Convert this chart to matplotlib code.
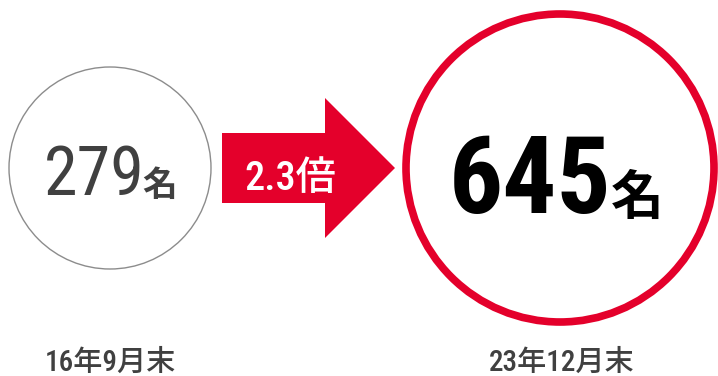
import matplotlib
matplotlib.use("Agg")
import matplotlib.pyplot as plt
from matplotlib.patches import Circle, Polygon

# データ
periods = ["16年9月末", "23年12月末"]
counts = [279, 645]
unit = "名"

fam = ["Roboto Condensed", "Noto Sans CJK JP", "DejaVu Sans"]
cjk = ["Noto Sans CJK JP", "DejaVu Sans"]

red = "#E4002B"
gray = "#404040"

fig = plt.figure(figsize=(7.18, 3.76), dpi=100)
ax = fig.add_axes([0, 0, 1, 1])
ax.set_xlim(0, 718)
ax.set_ylim(376, 0)
ax.set_aspect("equal")
ax.axis("off")

# 円
ax.add_patch(Circle((110, 168), 101, fill=False, ec="#8c8c8c", lw=1.0))
ax.add_patch(Circle((560, 168), 154, fill=False, ec=red, lw=5.5))

# 矢印
arrow = [(222, 133), (325, 133), (325, 98), (395, 168),
         (325, 238), (325, 203), (222, 203)]
ax.add_patch(Polygon(arrow, closed=True, fc=red, ec="none"))
ax.text(290, 190, f"{counts[1] / counts[0]:.1f}倍", color="white",
        fontsize=29, fontweight="medium", family=fam, ha="center", va="baseline")

# 人数
ax.text(145, 195, f"{counts[0]}", color=gray, fontsize=49, family=fam,
        ha="right", va="baseline")
ax.text(142, 196, unit, color=gray, fontsize=25, fontweight="bold", family=cjk,
        ha="left", va="baseline")
ax.text(611, 213, f"{counts[1]}", color="black", fontsize=77, fontweight="bold",
        family=fam, ha="right", va="baseline")
ax.text(611, 214, unit, color="black", fontsize=38, fontweight="bold",
        family=cjk, ha="left", va="baseline")

# 時点
for x, p in zip([110, 562], periods):
    ax.text(x, 371, p, color=gray, fontsize=21, fontweight="medium", family=fam,
            ha="center", va="baseline")

fig.savefig("out.png", dpi=100)
